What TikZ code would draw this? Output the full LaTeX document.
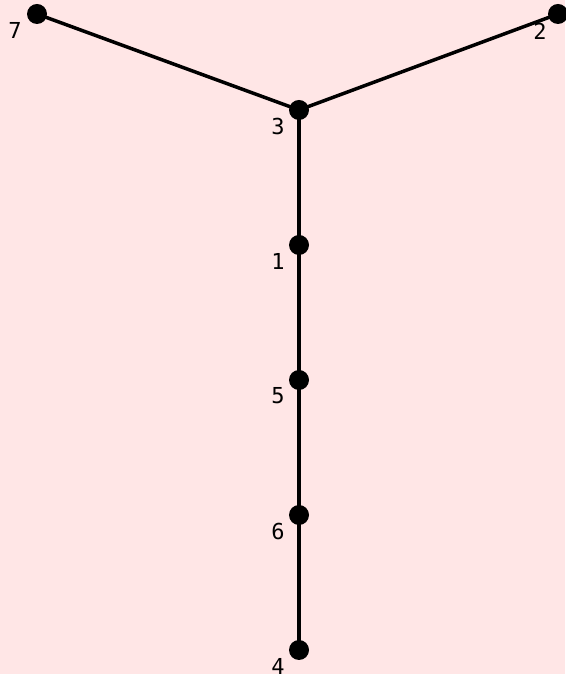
\documentclass[tikz,border=0pt]{standalone}
\usepackage{fontspec}
\setmonofont{DejaVu Sans Mono}
\definecolor{bg}{HTML}{FFE6E6}
\begin{document}
\begin{tikzpicture}[x=1pt,y=1pt,
  dot/.style={circle,fill=black,inner sep=0pt,minimum size=20pt},
  lbl/.style={font=\ttfamily\fontsize{22}{22}\selectfont,inner sep=0pt,anchor=center},
  edge/.style={line width=3.5pt,black}]
\fill[bg] (0,0) rectangle (565,674);
\useasboundingbox (0,0) rectangle (565,674);
\node[dot] (n7) at (37,660) {};
\node[dot] (n2) at (558,660) {};
\node[dot] (n3) at (299,564) {};
\node[dot] (n1) at (299,429) {};
\node[dot] (n5) at (299,294) {};
\node[dot] (n6) at (299,159) {};
\node[dot] (n4) at (299,24) {};
\draw[edge] (n7.center) -- (n3.center);
\draw[edge] (n2.center) -- (n3.center);
\draw[edge] (n3.center) -- (n1.center);
\draw[edge] (n1.center) -- (n5.center);
\draw[edge] (n5.center) -- (n6.center);
\draw[edge] (n6.center) -- (n4.center);
\node[lbl] (l7) at ([shift={(-22,-16)}]n7.center) {7};
\node[lbl] (l2) at ([shift={(-18,-17)}]n2.center) {2};
\node[lbl] (l3) at ([shift={(-21,-16)}]n3.center) {3};
\node[lbl] (l1) at ([shift={(-21,-16)}]n1.center) {1};
\node[lbl] (l5) at ([shift={(-21,-16)}]n5.center) {5};
\node[lbl] (l6) at ([shift={(-21,-16)}]n6.center) {6};
\node[lbl] (l4) at ([shift={(-21,-16)}]n4.center) {4};
\end{tikzpicture}
\end{document}
